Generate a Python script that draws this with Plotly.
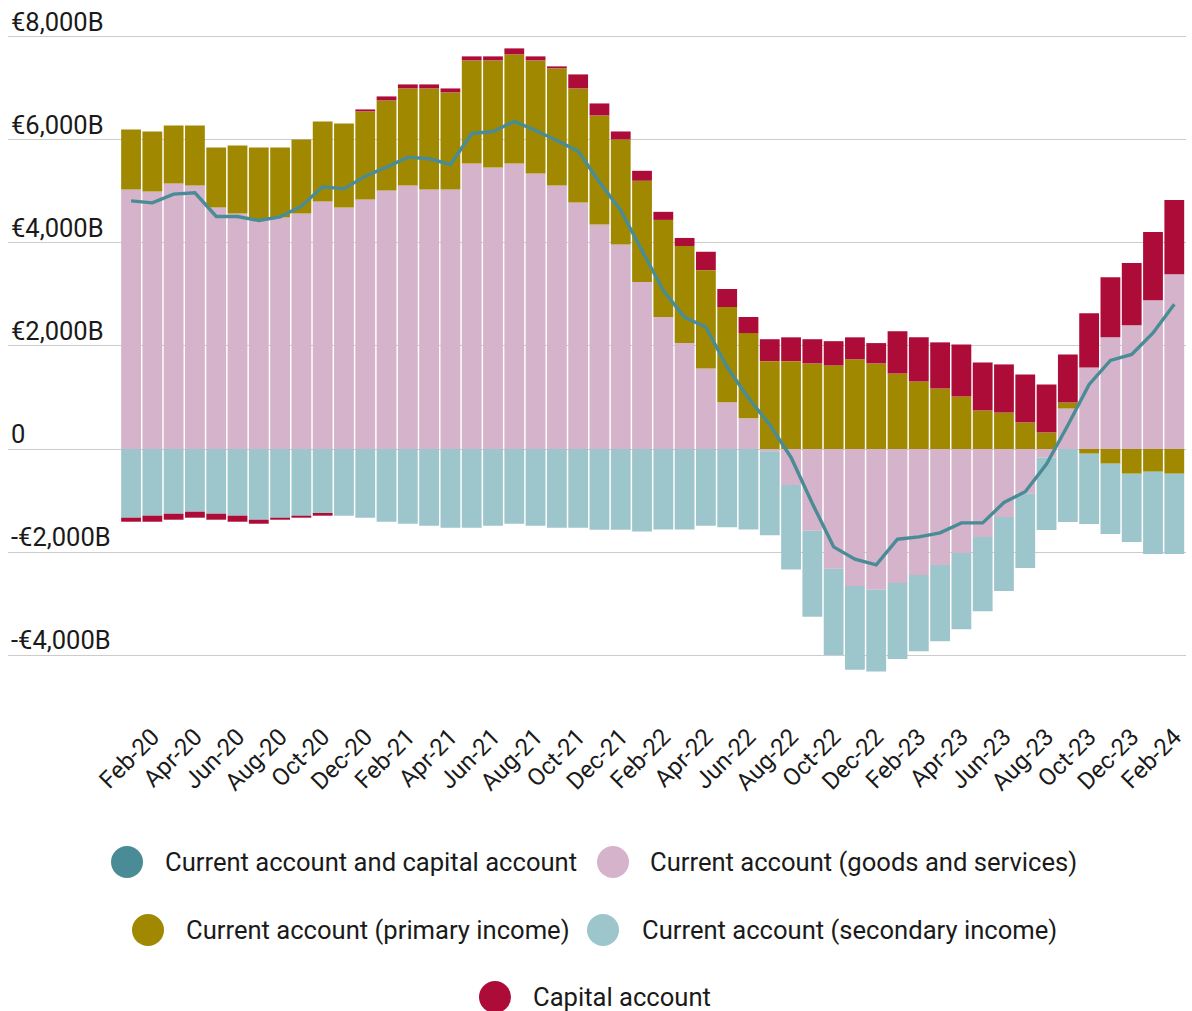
import plotly.graph_objects as go

# ---------------- data (EUR billions) ----------------
months = ["Jan-20", "Feb-20", "Mar-20", "Apr-20", "May-20", "Jun-20", "Jul-20", "Aug-20", "Sep-20", "Oct-20", "Nov-20", "Dec-20",
          "Jan-21", "Feb-21", "Mar-21", "Apr-21", "May-21", "Jun-21", "Jul-21", "Aug-21", "Sep-21", "Oct-21", "Nov-21", "Dec-21",
          "Jan-22", "Feb-22", "Mar-22", "Apr-22", "May-22", "Jun-22", "Jul-22", "Aug-22", "Sep-22", "Oct-22", "Nov-22", "Dec-22",
          "Jan-23", "Feb-23", "Mar-23", "Apr-23", "May-23", "Jun-23", "Jul-23", "Aug-23", "Sep-23", "Oct-23", "Nov-23", "Dec-23",
          "Jan-24", "Feb-24"]

goods_services = [5035, 4996, 5152, 5113, 4686, 4569, 4453, 4491, 4569, 4802, 4686, 4841,
                  5016, 5113, 5035, 5035, 5540, 5462, 5540, 5346, 5113, 4783, 4356, 3967,
                  3239, 2561, 2055, 1564, 908, 596, -45, -700, -1586, -2323, -2658, -2733,
                  -2599, -2446, -2251, -2017, -1706, -1317, -869, -169, 785, 1583, 2167, 2400,
                  2887, 3393]

primary_income = [1165, 1165, 1126, 1165, 1165, 1321, 1398, 1360, 1437, 1553, 1631, 1709,
                  1747, 1883, 1961, 1884, 2000, 2078, 2116, 2194, 2272, 2213, 2116, 2039,
                  1966, 1884, 1884, 1906, 1847, 1653, 1705, 1705, 1660, 1623, 1742, 1660,
                  1467, 1310, 1174, 1018, 746, 707, 512, 318, 117, -91, -285, -480,
                  -441, -480]

secondary_income = [-1333, -1294, -1256, -1217, -1256, -1294, -1372, -1333, -1294, -1256, -1294, -1333,
                    -1411, -1450, -1489, -1527, -1527, -1489, -1450, -1489, -1527, -1527, -1566, -1566,
                    -1601, -1564, -1564, -1489, -1519, -1564, -1630, -1638, -1668, -1675, -1623, -1586,
                    -1474, -1479, -1479, -1480, -1440, -1440, -1440, -1401, -1414, -1362, -1363, -1323,
                    -1596, -1557]

capital = [-78, -117, -116, -116, -116, -117, -78, -39, -39, -38, 0, 39,
           78, 78, 78, 77, 78, 78, 117, 78, 39, 272, 233, 155,
           193, 157, 156, 357, 350, 312, 425, 462, 470, 469, 425, 395,
           819, 857, 895, 1012, 934, 934, 935, 934, 934, 1051, 1167, 1207,
           1323, 1440]

current_and_capital = [4815, 4776, 4945, 4970, 4511, 4511, 4433, 4505, 4712, 5087, 5048, 5294,
                       5470, 5663, 5631, 5521, 6122, 6161, 6355, 6181, 5987, 5779, 5178, 4627,
                       3850, 3075, 2554, 2368, 1586, 990, 469, -164, -1057, -1899, -2137, -2249,
                       -1750, -1706, -1628, -1434, -1434, -1038, -830, -292, 460, 1252, 1719, 1836,
                       2251, 2809]

x_tick_labels = months[1::2]
y_tick_values = [-4000, -2000, 0, 2000, 4000, 6000, 8000]
y_tick_labels = ["-€4,000B", "-€2,000B", "0", "€2,000B", "€4,000B", "€6,000B", "€8,000B"]

series_names = ["Current account and capital account", "Current account (goods and services)",
                "Current account (primary income)", "Current account (secondary income)", "Capital account"]

# ---------------- styles ----------------
C_LINE = "#4a8c96"
C_GOODS = "#d4b3cb"
C_PRIM = "#a08900"
C_SEC = "#9dc5cc"
C_CAP = "#ad0c39"
FONT = "Roboto"

W, H = 1192, 1011
ML, MR, MT, MB = 8, 6, 0, 294
PW, PH = W - ML - MR, H - MT - MB


def px_x(px):
    return (px - ML) / PW


def px_y(py):
    return (H - MB - py) / PH


fig = go.Figure()
for vals, name, col in [(goods_services, series_names[1], C_GOODS),
                        (primary_income, series_names[2], C_PRIM),
                        (secondary_income, series_names[3], C_SEC),
                        (capital, series_names[4], C_CAP)]:
    fig.add_trace(go.Bar(x=months, y=vals, name=name, marker=dict(color=col, line=dict(width=0)),
                         showlegend=False))

fig.add_trace(go.Scatter(x=months, y=current_and_capital, name=series_names[0], mode="lines",
                         line=dict(color=C_LINE, width=3.4), showlegend=False))

fig.update_layout(
    width=W, height=H,
    margin=dict(l=ML, r=MR, t=MT, b=MB),
    barmode="relative", bargap=0.07,
    plot_bgcolor="white", paper_bgcolor="white",
    font=dict(family=FONT, color="#1a1a1a"),
)
fig.update_xaxes(
    type="category", range=[-5.78, 49.55],
    tickmode="array", tickvals=x_tick_labels, ticktext=x_tick_labels,
    tickangle=-45, tickfont=dict(size=24, family=FONT, color="#1a1a1a"),
    showgrid=False, showline=False, zeroline=False, ticks="",
)
fig.update_yaxes(
    range=[-5200, 8712],
    tickmode="array", tickvals=y_tick_values, ticktext=y_tick_labels,
    ticklabelposition="inside top", ticklabelshift=3, ticklabeloverflow="allow",
    tickfont=dict(size=25.5, family=FONT, color="#1a1a1a"),
    showgrid=True, gridcolor="#cccccc", gridwidth=1.3,
    zeroline=False, showline=False, ticks="",
)

# ---------------- legend (drawn as circles + text) ----------------
legend_items = [
    (series_names[0], C_LINE, 127, 163, 862),
    (series_names[1], C_GOODS, 613, 648, 862),
    (series_names[2], C_PRIM, 148, 184, 930),
    (series_names[3], C_SEC, 603, 640, 930),
    (series_names[4], C_CAP, 495, 531, 997),
]
for name, col, cx, tx, cy in legend_items:
    fig.add_shape(type="circle", xref="paper", yref="paper",
                  xsizemode="pixel", ysizemode="pixel",
                  xanchor=px_x(cx), yanchor=px_y(cy),
                  x0=-16, x1=16, y0=-16, y1=16,
                  fillcolor=col, line=dict(width=0))
    fig.add_annotation(xref="paper", yref="paper", x=px_x(tx), y=px_y(cy),
                       xanchor="left", yanchor="middle", showarrow=False,
                       text=name, font=dict(family=FONT, size=25.6, color="#1a1a1a"))

fig.write_html("out.html", config={"displayModeBar": False},
               post_script="document.body.style.margin='0';")
